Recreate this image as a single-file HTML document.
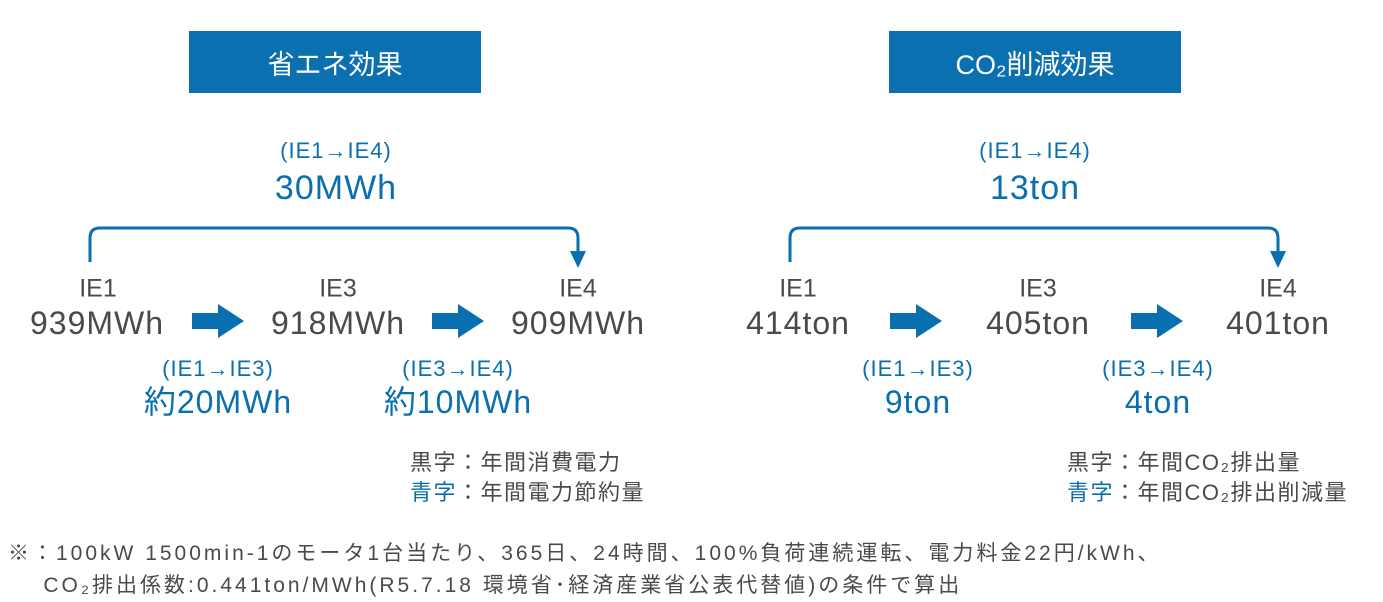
<!DOCTYPE html>
<html><head><meta charset="utf-8"><style>
body{margin:0;width:1383px;height:602px;background:#fff;position:relative;overflow:hidden;font-family:"Liberation Sans","Noto Sans CJK JP",sans-serif;}
.t{position:absolute;white-space:nowrap;transform:translate(-50%,-50%);line-height:1;}
.g{color:#4a4a4a}.b{color:#0a6fae}
.hd{position:absolute;top:31px;height:62px;width:292px;background:#0a70b0;color:#fff;font-size:27px;display:flex;align-items:center;justify-content:center;}
.s{font-size:22px;letter-spacing:1px}.l{font-size:32px;letter-spacing:1px}.m{font-size:25px}
.p{position:absolute;font-size:22px;color:#4a4a4a;white-space:nowrap;line-height:30px;letter-spacing:1.5px}
</style></head><body>
<div class="hd" style="left:189px">省エネ効果</div>
<div class="hd" style="left:889px">CO₂削減効果</div>

<svg width="1383" height="602" style="position:absolute;left:0;top:0">
<g fill="none" stroke="#0a6fae" stroke-width="3">
<path d="M90 262 V238 Q90 228 100 228 H568 Q578 228 578 238 V252"/>
<path d="M790 262 V238 Q790 228 800 228 H1268 Q1278 228 1278 238 V252"/>
</g>
<g fill="#0a6fae">
<path d="M570 251 H586 L578 268Z"/><path d="M1270 251 H1286 L1278 268Z"/>
<path d="M192 313 H218 V304 L244 321 L218 338 V329 H192Z"/>
<path d="M432 313 H458 V304 L484 321 L458 338 V329 H432Z"/>
<path d="M890 313 H916 V304 L942 321 L916 338 V329 H890Z"/>
<path d="M1131 313 H1157 V304 L1183 321 L1157 338 V329 H1131Z"/>
</g></svg>

<div class="t b s" style="left:336px;top:151px">(IE1→IE4)</div>
<div class="t b l" style="left:336px;top:188px;font-size:34px">30MWh</div>
<div class="t b s" style="left:1035px;top:151px">(IE1→IE4)</div>
<div class="t b l" style="left:1035px;top:188px;font-size:34px">13ton</div>

<div class="t g m" style="left:98px;top:289px">IE1</div>
<div class="t g l" style="left:97px;top:323px">939MWh</div>
<div class="t g m" style="left:338px;top:289px">IE3</div>
<div class="t g l" style="left:338px;top:323px">918MWh</div>
<div class="t g m" style="left:578px;top:289px">IE4</div>
<div class="t g l" style="left:578px;top:323px">909MWh</div>

<div class="t g m" style="left:798px;top:289px">IE1</div>
<div class="t g l" style="left:798px;top:323px">414ton</div>
<div class="t g m" style="left:1038px;top:289px">IE3</div>
<div class="t g l" style="left:1038px;top:323px">405ton</div>
<div class="t g m" style="left:1278px;top:289px">IE4</div>
<div class="t g l" style="left:1278px;top:323px">401ton</div>

<div class="t b s" style="left:218px;top:369px">(IE1→IE3)</div>
<div class="t b l" style="left:218px;top:402px">約20MWh</div>
<div class="t b s" style="left:458px;top:369px">(IE3→IE4)</div>
<div class="t b l" style="left:458px;top:402px">約10MWh</div>
<div class="t b s" style="left:918px;top:369px">(IE1→IE3)</div>
<div class="t b l" style="left:918px;top:402px">9ton</div>
<div class="t b s" style="left:1158px;top:369px">(IE3→IE4)</div>
<div class="t b l" style="left:1158px;top:402px">4ton</div>

<div class="p" style="left:410px;top:448px">黒字：年間消費電力<br><span class="b">青字</span>：年間電力節約量</div>
<div class="p" style="left:1067px;top:448px">黒字：年間CO₂排出量<br><span class="b">青字</span>：年間CO₂排出削減量</div>
<div class="p" style="left:8px;top:538px;line-height:32px;font-size:21px;letter-spacing:3px">※：100kW 1500min-1のモータ1台当たり、365日、24時間、100%負荷連続運転、電力料金22円/kWh、<br>&nbsp;&nbsp;&nbsp;&nbsp;CO₂排出係数:0.441ton/MWh(R5.7.18 環境省･経済産業省公表代替値)の条件で算出</div>
</body></html>
